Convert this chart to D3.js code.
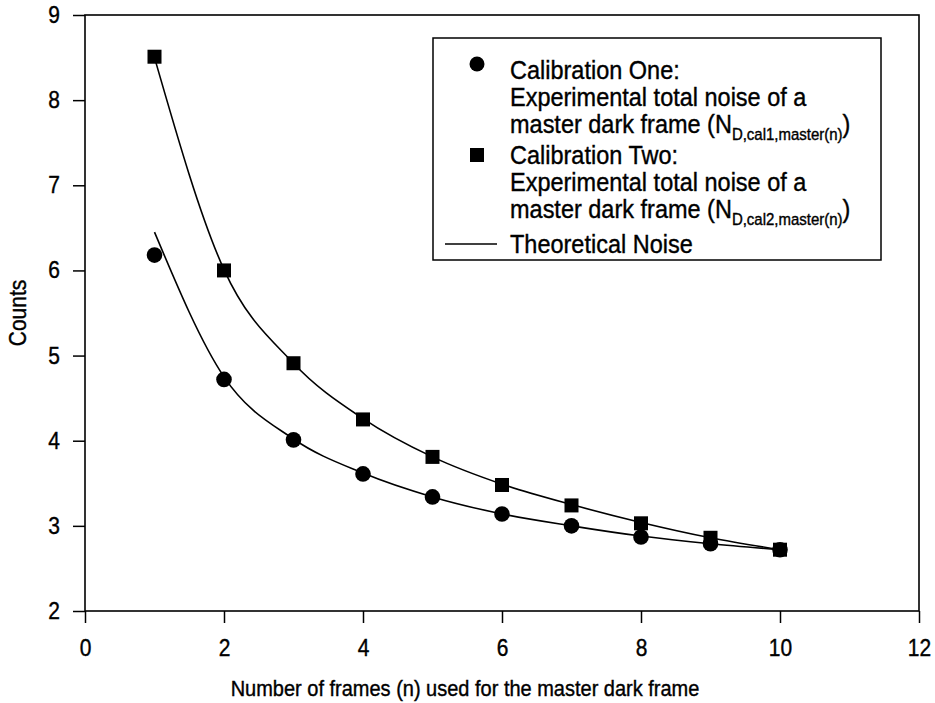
<!DOCTYPE html>
<html>
<head>
<meta charset="utf-8">
<script src="https://cdn.jsdelivr.net/npm/d3@7"></script>
<style>
  html, body { margin: 0; padding: 0; background: #fff; }
  svg { display: block; font-family: "Liberation Sans", Arial, sans-serif; }
  svg text { stroke: #000; stroke-width: 0.35px; fill: #000; }
</style>
</head>
<body>
<svg id="chart" width="935" height="703"></svg>
<script>
// Number of dark frames combined into the master dark frame
const frames = [1, 2, 3, 4, 5, 6, 7, 8, 9, 10];

// Measured total noise of the master dark frame (counts)
const cal1Measured = [6.18, 4.72, 4.01, 3.61, 3.34, 3.14, 3.00, 2.87, 2.79, 2.72];
const cal2Measured = [8.51, 6.00, 4.91, 4.25, 3.81, 3.48, 3.24, 3.03, 2.86, 2.72];

// Theoretical noise curves for each calibration
const cal1Theory = [6.45, 4.75, 4.02, 3.62, 3.34, 3.14, 3.00, 2.88, 2.79, 2.72];
const cal2Theory = [8.50, 6.01, 4.91, 4.26, 3.81, 3.49, 3.25, 3.04, 2.86, 2.72];

// Axis ticks
const xTicks = [0, 2, 4, 6, 8, 10, 12];
const yTicks = [2, 3, 4, 5, 6, 7, 8, 9];

const svg = d3.select("#chart");
const plotLeft = 85, plotRight = 919, plotTop = 15, plotBottom = 611;
const stretch = 1.12; // text is drawn slightly tall

const x = d3.scaleLinear().domain([0, 12]).range([plotLeft, plotRight]);
const y = d3.scaleLinear().domain([2, 9]).range([plotBottom, plotTop]);

// Plot frame
svg.append("rect")
  .attr("x", plotLeft).attr("y", plotTop)
  .attr("width", plotRight - plotLeft).attr("height", plotBottom - plotTop)
  .attr("fill", "none").attr("stroke", "#000").attr("stroke-width", 1.6);

// Axes
const xAxis = svg.append("g")
  .attr("transform", `translate(0,${plotBottom})`)
  .call(d3.axisBottom(x).tickValues(xTicks).tickFormat(d3.format("d"))
    .tickSize(12).tickPadding(14).tickSizeOuter(0));
const yAxis = svg.append("g")
  .attr("transform", `translate(${plotLeft},0)`)
  .call(d3.axisLeft(y).tickValues(yTicks).tickFormat(d3.format("d"))
    .tickSize(12).tickPadding(13).tickSizeOuter(0));

[xAxis, yAxis].forEach(g => {
  g.select(".domain").remove();
  g.selectAll(".tick line").attr("stroke", "#000").attr("stroke-width", 1.5);
  g.selectAll(".tick text")
    .attr("fill", "#000")
    .style("font-family", "'Liberation Sans', Arial, sans-serif")
    .style("font-size", "21px");
});
// stretch tick labels vertically about their own centre
xAxis.selectAll(".tick text")
  .attr("y", 0).attr("dy", "0.35em")
  .attr("transform", `translate(0,37) scale(1,${stretch})`);
yAxis.selectAll(".tick text")
  .attr("transform", `scale(1,${stretch})`);

// Axis titles
svg.append("text")
  .attr("transform", `translate(465,688) scale(1,${stretch})`)
  .attr("dy", "0.35em")
  .attr("text-anchor", "middle")
  .style("font-size", "20px")
  .text("Number of frames (n) used for the master dark frame");

svg.append("text")
  .attr("transform", `translate(18,313) rotate(-90) scale(1,${stretch})`)
  .attr("dy", "0.35em")
  .attr("text-anchor", "middle")
  .style("font-size", "21px")
  .text("Counts");

// Theoretical curves
const line = d3.line()
  .x((d, i) => x(frames[i]))
  .y(d => y(d))
  .curve(d3.curveMonotoneX);

[cal1Theory, cal2Theory].forEach(vals => {
  svg.append("path")
    .attr("d", line(vals))
    .attr("fill", "none")
    .attr("stroke", "#000")
    .attr("stroke-width", 1.6);
});

// Calibration Two markers (squares)
const sq = 14;
svg.append("g").selectAll("rect")
  .data(cal2Measured)
  .join("rect")
  .attr("x", (d, i) => x(frames[i]) - sq / 2)
  .attr("y", d => y(d) - sq / 2)
  .attr("width", sq).attr("height", sq)
  .attr("fill", "#000");

// Calibration One markers (circles)
svg.append("g").selectAll("circle")
  .data(cal1Measured)
  .join("circle")
  .attr("cx", (d, i) => x(frames[i]))
  .attr("cy", d => y(d))
  .attr("r", 7.8)
  .attr("fill", "#000");

// Legend
const legend = svg.append("g");
legend.append("rect")
  .attr("x", 433).attr("y", 38)
  .attr("width", 448).attr("height", 222)
  .attr("fill", "#fff").attr("stroke", "#000").attr("stroke-width", 1.5);

legend.append("circle").attr("cx", 477).attr("cy", 64).attr("r", 7.5).attr("fill", "#000");
legend.append("rect").attr("x", 470).attr("y", 148).attr("width", 14).attr("height", 14).attr("fill", "#000");
legend.append("line").attr("x1", 445).attr("x2", 497).attr("y1", 244).attr("y2", 244)
  .attr("stroke", "#000").attr("stroke-width", 1.6);

const fs = 23.5;
function legendLine(yc, txt, sub) {
  const t = legend.append("text")
    .attr("transform", `translate(510,${yc}) scale(1,${stretch})`)
    .attr("dy", "0.35em")
    .style("font-size", fs + "px");
  t.append("tspan").text(txt);
  if (sub) {
    t.append("tspan").attr("dy", "6").style("font-size", "15px").text(sub);
    t.append("tspan").attr("dy", "-6").text(")");
  }
}
legendLine(70, "Calibration One:");
legendLine(97, "Experimental total noise of a");
legendLine(124, "master dark frame (N", "D,cal1,master(n)");
legendLine(155, "Calibration Two:");
legendLine(182, "Experimental total noise of a");
legendLine(209, "master dark frame (N", "D,cal2,master(n)");
legendLine(244, "Theoretical Noise");
</script>
</body>
</html>
